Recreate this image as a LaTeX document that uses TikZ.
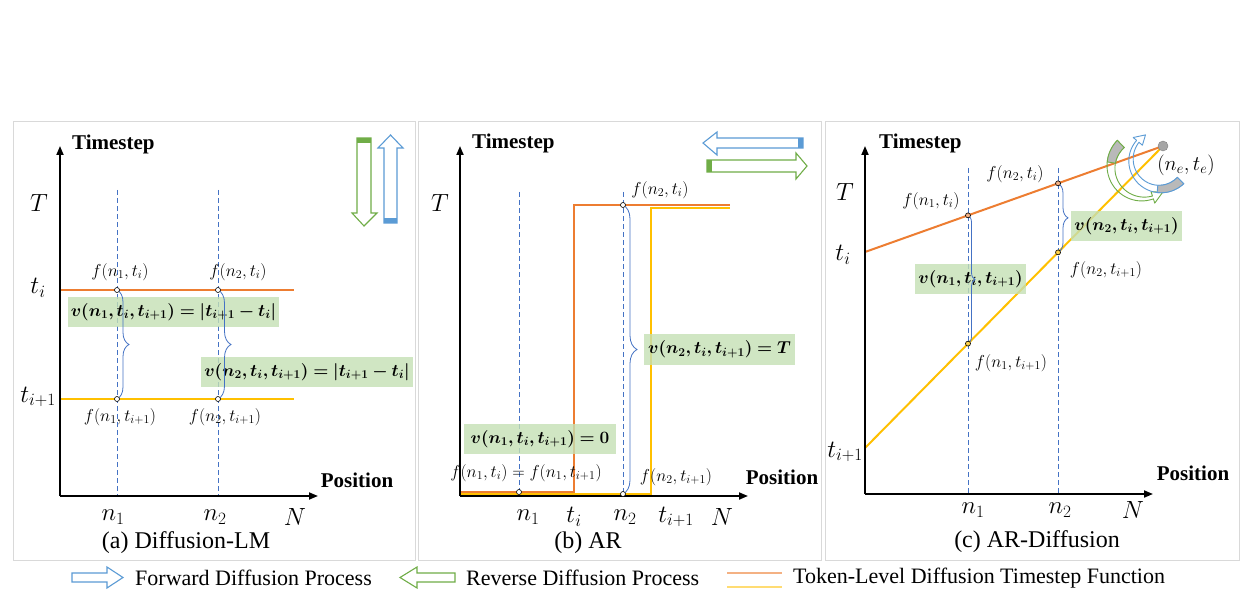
\documentclass[tikz,border=0pt]{standalone}
\usepackage{fontspec}
\setmainfont{Liberation Serif}
\usepackage{amsmath}
\usepackage{bm}
\usetikzlibrary{decorations.pathreplacing,arrows.meta,calc}
\definecolor{orng}{HTML}{ED7D31}
\definecolor{yell}{HTML}{FFC000}
\definecolor{dblue}{HTML}{4472C4}
\definecolor{lblue}{HTML}{5B9BD5}
\definecolor{grn}{HTML}{70AD47}
\definecolor{boxg}{HTML}{C5E0B4}
\definecolor{framec}{HTML}{D9D9D9}
\tikzset{
 axisline/.style={line width=1.8pt,-{Triangle[length=9pt,width=7pt]}},
 guide/.style={dblue, dash pattern=on 5pt off 3pt, line width=0.8pt},
 fo/.style={orng, line width=2pt},
 fy/.style={yell, line width=2pt},
 dotmark/.style={circle, draw=black, fill=white, inner sep=0pt, minimum size=5pt, line width=0.6pt},
 flab/.style={font=\fontsize{18}{20}\selectfont, inner sep=0pt},
 biglab/.style={font=\fontsize{24}{28}\selectfont, inner sep=0pt},
 axl/.style={font=\fontsize{21}{24}\selectfont\bfseries, inner sep=0pt},
 capt/.style={font=\fontsize{24}{28}\selectfont, inner sep=0pt},
 vbox/.style={fill=boxg, fill opacity=0.8, text opacity=1, inner sep=0pt, font=\fontsize{17}{20}\selectfont},
 brc/.style={dblue, line width=0.8pt, decorate, decoration={brace, amplitude=#1}},
 panel/.style={draw=framec, line width=1pt},
 leg/.style={font=\fontsize{22}{26}\selectfont, inner sep=0pt, anchor=west},
 hollowb/.style={draw=lblue, line width=1.1pt, fill=white, line join=miter},
 hollowg/.style={draw=grn, line width=1.1pt, fill=white, line join=miter},
}
\begin{document}
\begin{tikzpicture}[x=1pt,y=-1pt]
\useasboundingbox (0,0) rectangle (1252,596);
\fill[white] (0,0) rectangle (1252,596);
% panels
\draw[panel] (13,122) rectangle (415,560);
\draw[panel] (418,122) rectangle (821,560);
\draw[panel] (825,122) rectangle (1239,560);

%%%%%%%%%%%%%%%% (a) Diffusion-LM
\coordinate (ao) at (60,496);
\coordinate (ay) at (60,146);
\coordinate (ax) at (318,496);
\coordinate (ati) at (60,290);
\coordinate (atie) at (294,290);
\coordinate (atj) at (60,399);
\coordinate (atje) at (294,399);
\coordinate (ag1t) at (117,190);
\coordinate (ag1b) at (117,496);
\coordinate (ag2t) at (218,190);
\coordinate (ag2b) at (218,496);
\draw[guide] (ag1t) -- (ag1b);
\draw[guide] (ag2t) -- (ag2b);
\draw[fo] (ati) -- (atie);
\draw[fy] (atj) -- (atje);
\coordinate (a11) at (117,290);
\coordinate (a21) at (218,290);
\coordinate (a12) at (117,399);
\coordinate (a22) at (218,399);
\node[vbox, minimum width=211pt, minimum height=30pt] (av1) at (173.5,312) {$\bm{v(n_1,t_i,t_{i+1})=|t_{i+1}-t_i|}$};
\node[vbox, minimum width=212pt, minimum height=30pt] (av2) at (307,372) {$\bm{v(n_2,t_i,t_{i+1})=|t_{i+1}-t_i|}$};
\draw[brc=12] (a11) -- (a12);
\draw[brc=13] (a21) -- (a22);
\node[dotmark] (a11d) at (a11) {};
\node[dotmark] (a21d) at (a21) {};
\node[dotmark] (a12d) at (a12) {};
\node[dotmark] (a22d) at (a22) {};
\draw[axisline] (ao) -- (ay);
\draw[axisline] (ao) -- (ax);
\node[axl, anchor=west] (aT) at (72,144) {Timestep};
\node[axl] (aP) at (357,480) {Position};
\node[biglab] (aTT) at (39,203) {$T$};
\node[biglab] (ati) at (38,288) {$t_i$};
\node[biglab] (atj) at (38,397) {$t_{i+1}$};
\node[flab] (af11) at (120,272) {$f(n_1,t_i)$};
\node[flab] (af21) at (238,272) {$f(n_2,t_i)$};
\node[flab] (af12) at (120,417) {$f(n_1,t_{i+1})$};
\node[flab] (af22) at (225,417) {$f(n_2,t_{i+1})$};
\node[biglab] (an1) at (113,517) {$n_1$};
\node[biglab] (an2) at (215,517) {$n_2$};
\node[biglab] (aN) at (295,517) {$N$};
\node[capt] (acap) at (186,543) {(a) Diffusion-LM};
% process arrows (a)
\draw[hollowg] (357,138) -- (371,138) -- (371,213) -- (377,213) -- (364,226) -- (352,213) -- (357,213) -- cycle;
\fill[grn] (357,138) rectangle (371,143);
\draw[hollowb] (384,223) -- (384,148) -- (378,148) -- (390.5,135) -- (403,148) -- (397,148) -- (397,223) -- cycle;
\fill[lblue] (384,218) rectangle (397,223);

%%%%%%%%%%%%%%%% (b) AR
\coordinate (bo) at (460,496);
\coordinate (by) at (460,146);
\coordinate (bx) at (748,496);
\coordinate (bg1t) at (519,192);
\coordinate (bg1b) at (519,496);
\coordinate (bg2t) at (623,192);
\coordinate (bg2b) at (623,496);
\draw[guide] (bg1t) -- (bg1b);
\draw[guide] (bg2t) -- (bg2b);
\coordinate (bo1) at (460,492);
\coordinate (bo2) at (574,492);
\coordinate (bo3) at (574,205);
\coordinate (bo4) at (730,205);
\coordinate (by1) at (460,494);
\coordinate (by2) at (651,494);
\coordinate (by3) at (651,207.5);
\coordinate (by4) at (730,207.5);
\draw[fy] (by1) -- (by2) -- (by3) -- (by4);
\draw[fo] (bo1) -- (bo2) -- (bo3) -- (bo4);
\coordinate (b11) at (519,492);
\coordinate (b21) at (623,205);
\coordinate (b22) at (623,494);
\node[vbox, minimum width=151pt, minimum height=31pt] (bv2) at (719.5,349.5) {$\bm{v(n_2,t_i,t_{i+1})=T}$};
\node[vbox, minimum width=152pt, minimum height=30pt] (bv1) at (540,439) {$\bm{v(n_1,t_i,t_{i+1})=0}$};
\draw[brc=14] (b21) -- (b22);
\draw[axisline] (bo) -- (by);
\draw[axisline] (bo) -- (bx);
\node[dotmark] (b11d) at (b11) {};
\node[dotmark] (b21d) at (b21) {};
\node[dotmark] (b22d) at (b22) {};
\node[axl, anchor=west] (bT) at (472,143) {Timestep};
\node[axl] (bP) at (782,477) {Position};
\node[biglab] (bTT) at (440,203) {$T$};
\node[flab] (bf21) at (660,190) {$f(n_2,t_i)$};
\node[flab] (bf1) at (526,473) {$f(n_1,t_i)=f(n_1,t_{i+1})$};
\node[flab] (bf22) at (676,477) {$f(n_2,t_{i+1})$};
\node[biglab] (bn1) at (528,517) {$n_1$};
\node[biglab] (bti) at (574,517) {$t_i$};
\node[biglab] (bn2) at (625,517) {$n_2$};
\node[biglab] (btj) at (676,517) {$t_{i+1}$};
\node[biglab] (bN) at (722,517) {$N$};
\node[capt] (bcap) at (588,543) {(b) AR};
% process arrows (b)
\draw[hollowb] (803,138) -- (717,138) -- (717,132) -- (703,143) -- (717,155) -- (717,148) -- (803,148) -- cycle;
\fill[lblue] (798,138) rectangle (803,148);
\draw[hollowg] (707,160) -- (796,160) -- (796,153) -- (807,166) -- (796,179) -- (796,172) -- (707,172) -- cycle;
\fill[grn] (707,160) rectangle (712,172);

%%%%%%%%%%%%%%%% (c) AR-Diffusion
\coordinate (co) at (865,494);
\coordinate (cy) at (865,146);
\coordinate (cx) at (1153,494);
\coordinate (cti) at (865,252);
\coordinate (ctj) at (865,448);
\coordinate (ce) at (1163,146);
\coordinate (cg1t) at (968,168);
\coordinate (cg1b) at (968,494);
\coordinate (cg2t) at (1058,168);
\coordinate (cg2b) at (1058,494);
\draw[guide] (cg1t) -- (cg1b);
\draw[guide] (cg2t) -- (cg2b);
\draw[fo] (cti) -- (ce);
\draw[fy] (ctj) -- (ce);
\coordinate (c11) at ($(cti)!0.3456!(ce)$);
\coordinate (c21) at ($(cti)!0.6477!(ce)$);
\coordinate (c12) at ($(ctj)!0.3456!(ce)$);
\coordinate (c22) at ($(ctj)!0.6477!(ce)$);
\node[vbox, minimum width=111pt, minimum height=30pt] (cv1) at (970.5,279) {$\bm{v(n_1,t_i,t_{i+1})}$};
\node[vbox, minimum width=111pt, minimum height=30pt] (cv2) at (1126.5,226) {$\bm{v(n_2,t_i,t_{i+1})}$};
\draw[brc=7] (c11) -- (c12);
\draw[brc=10] (c21) -- (c22);
\node[dotmark, fill=orng!60] (c11d) at (c11) {};
\node[dotmark, fill=orng!60] (c21d) at (c21) {};
\node[dotmark, fill=yell!70] (c12d) at (c12) {};
\node[dotmark, fill=yell!70] (c22d) at (c22) {};
\draw[axisline] (co) -- (cy);
\draw[axisline] (co) -- (cx);
% curved arrows near the end point
\draw[grn, line width=0.9pt, line join=round]
 plot[domain=134:288, samples=40, smooth] ({1143+(32+0.5*(10-7*(\x-134)/154))*cos(\x)}, {167-(32+0.5*(10-7*(\x-134)/154))*sin(\x)})
 -- ({1143+38*cos(288)}, {167-38*sin(288)})
 -- ({1143+32*cos(308)}, {167-32*sin(308)})
 -- ({1143+26*cos(288)}, {167-26*sin(288)})
 -- plot[domain=288:134, samples=40, smooth] ({1143+(32-0.5*(10-7*(\x-134)/154))*cos(\x)}, {167-(32-0.5*(10-7*(\x-134)/154))*sin(\x)})
 -- cycle;
\filldraw[fill=gray!55, draw=grn, line width=0.9pt]
 plot[domain=134:172, samples=15, smooth] ({1143+(32+0.5*(10-7*(\x-134)/154))*cos(\x)}, {167-(32+0.5*(10-7*(\x-134)/154))*sin(\x)})
 -- plot[domain=172:134, samples=15, smooth] ({1143+(32-0.5*(10-7*(\x-134)/154))*cos(\x)}, {167-(32-0.5*(10-7*(\x-134)/154))*sin(\x)})
 -- cycle;
\draw[lblue, line width=0.9pt, line join=round]
 plot[domain=-45:-220, samples=40, smooth] ({1160+(29+0.5*(9-6*(-45-(\x))/175))*cos(\x)}, {160-(29+0.5*(9-6*(-45-(\x))/175))*sin(\x)})
 -- ({1160+35*cos(-220)}, {160-35*sin(-220)})
 -- ({1160+29*cos(-240)}, {160-29*sin(-240)})
 -- ({1160+23*cos(-220)}, {160-23*sin(-220)})
 -- plot[domain=-220:-45, samples=40, smooth] ({1160+(29-0.5*(9-6*(-45-(\x))/175))*cos(\x)}, {160-(29-0.5*(9-6*(-45-(\x))/175))*sin(\x)})
 -- cycle;
\filldraw[fill=gray!55, draw=lblue, line width=0.9pt]
 plot[domain=-45:-95, samples=15, smooth] ({1160+(29+0.5*(9-6*(-45-(\x))/175))*cos(\x)}, {160-(29+0.5*(9-6*(-45-(\x))/175))*sin(\x)})
 -- plot[domain=-95:-45, samples=15, smooth] ({1160+(29-0.5*(9-6*(-45-(\x))/175))*cos(\x)}, {160-(29-0.5*(9-6*(-45-(\x))/175))*sin(\x)})
 -- cycle;
\node[circle, fill=gray!70, draw=gray, minimum size=10pt, inner sep=0pt] (ced) at (ce) {};
\node[axl, anchor=west] (cT) at (879,143) {Timestep};
\node[axl] (cP) at (1193,473) {Position};
\node[biglab] (cTT) at (845,192) {$T$};
\node[biglab] (ctil) at (843,255) {$t_i$};
\node[biglab] (ctjl) at (845,452) {$t_{i+1}$};
\node[flab] (cf11) at (931,201) {$f(n_1,t_i)$};
\node[flab] (cf21) at (1015,174) {$f(n_2,t_i)$};
\node[flab] (cf22) at (1106,270) {$f(n_2,t_{i+1})$};
\node[flab] (cf12) at (1011,363) {$f(n_1,t_{i+1})$};
\node[font=\fontsize{21}{24}\selectfont, inner sep=0pt] (cne) at (1186,165) {$(n_e,t_e)$};
\node[biglab] (cn1) at (973,510) {$n_1$};
\node[biglab] (cn2) at (1060,510) {$n_2$};
\node[biglab] (cN) at (1133,510) {$N$};
\node[capt] (ccap) at (1037,542) {(c) AR-Diffusion};

%%%%%%%%%%%%%%%% legend
\draw[hollowb] (72,573) -- (107,573) -- (107,567) -- (123,577.5) -- (107,588) -- (107,582) -- (72,582) -- cycle;
\node[leg] (lf) at (135,578) {Forward Diffusion Process};
\draw[hollowg] (455,573) -- (417,573) -- (417,567) -- (400,577.5) -- (417,588) -- (417,582) -- (455,582) -- cycle;
\node[leg] (lr) at (466,578) {Reverse Diffusion Process};
\coordinate (lo1) at (727,573);
\coordinate (lo2) at (782,573);
\coordinate (ly1) at (727,587);
\coordinate (ly2) at (782,587);
\draw[orng!60, line width=2pt] (lo1) -- (lo2);
\draw[yell!55, line width=2pt] (ly1) -- (ly2);
\node[leg] (lt) at (793,578) {Token-Level Diffusion Timestep Function};
\end{tikzpicture}
\end{document}
